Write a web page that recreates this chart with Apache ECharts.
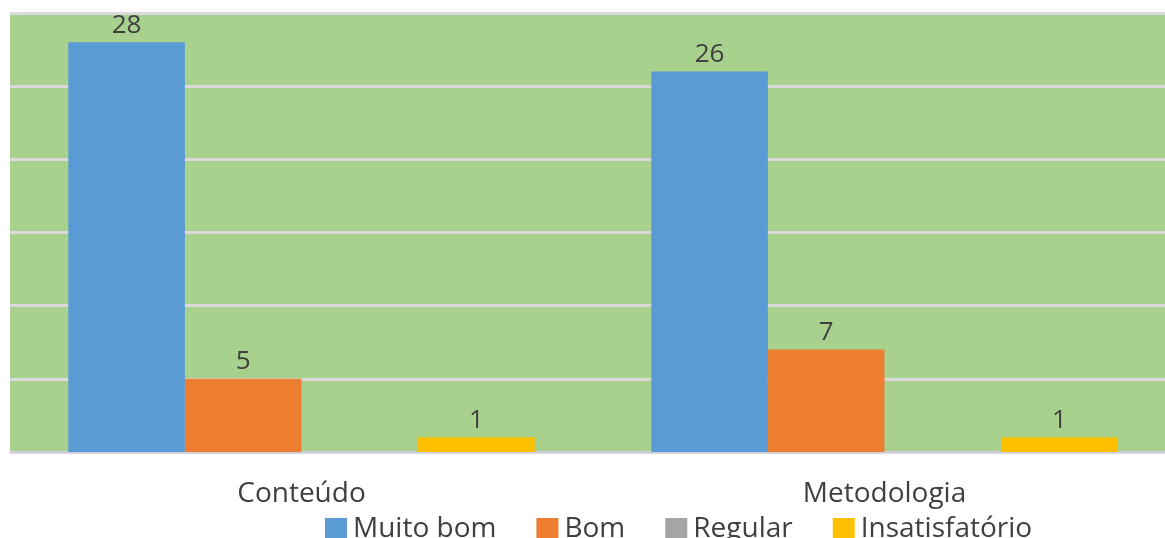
<!DOCTYPE html>
<html>
<head>
<meta charset="utf-8">
<script src="https://cdn.jsdelivr.net/npm/echarts@6/dist/echarts.min.js"></script>
<style>
html,body{margin:0;padding:0;background:#fff;}
#c{width:1165px;height:538px;}
</style>
</head>
<body>
<div id="c"></div>
<script>
const categories = ['Conteúdo', 'Metodologia'];
const seriesNames = ['Muito bom', 'Bom', 'Regular', 'Insatisfatório'];
const muitoBom = [28, 26];
const bom = [5, 7];
const regular = [0, 0];
const insatisfatorio = [1, 1];
const colors = ['#5b9bd5', '#ed7d31', '#a5a5a5', '#ffc000'];

const FONT = 'Open Sans';
const seriesData = [muitoBom, bom, regular, insatisfatorio];

const chart = echarts.init(document.getElementById('c'));
chart.setOption({
  backgroundColor: '#ffffff',
  animation: false,
  color: colors,
  textStyle: { fontFamily: FONT },
  legend: {
    data: seriesNames,
    left: 320,
    top: 510,
    itemWidth: 22,
    itemHeight: 22,
    itemGap: 40,
    icon: 'rect',
    textStyle: { fontFamily: FONT, fontSize: 28, color: '#404040', padding: [0, 0, 0, 1] }
  },
  grid: {
    left: 10, right: -11, top: 13, bottom: 86,
    outerBoundsMode: 'none',
    show: true, backgroundColor: '#a9d18e', borderWidth: 0,
    containLabel: false
  },
  xAxis: {
    type: 'category',
    data: categories,
    axisLine: { show: true, lineStyle: { color: '#d0cfe0', width: 2 } },
    axisTick: { show: false },
    axisLabel: { fontFamily: FONT, fontSize: 28, color: '#404040', margin: 28 }
  },
  yAxis: {
    type: 'value',
    min: 0, max: 30, interval: 5,
    axisLabel: { show: false },
    axisLine: { show: false },
    axisTick: { show: false },
    splitLine: { show: true, lineStyle: { color: '#d9d9d9', width: 3 } }
  },
  series: seriesNames.map((name, i) => ({
    name: name,
    type: 'bar',
    data: seriesData[i],
    barGap: '0%',
    barCategoryGap: '20%',
    itemStyle: { color: colors[i] },
    label: {
      show: true,
      position: 'top',
      distance: 4,
      fontFamily: FONT,
      fontSize: 26,
      color: '#404040',
      formatter: p => (p.value === 0 ? '' : p.value)
    }
  }))
});
</script>
</body>
</html>
